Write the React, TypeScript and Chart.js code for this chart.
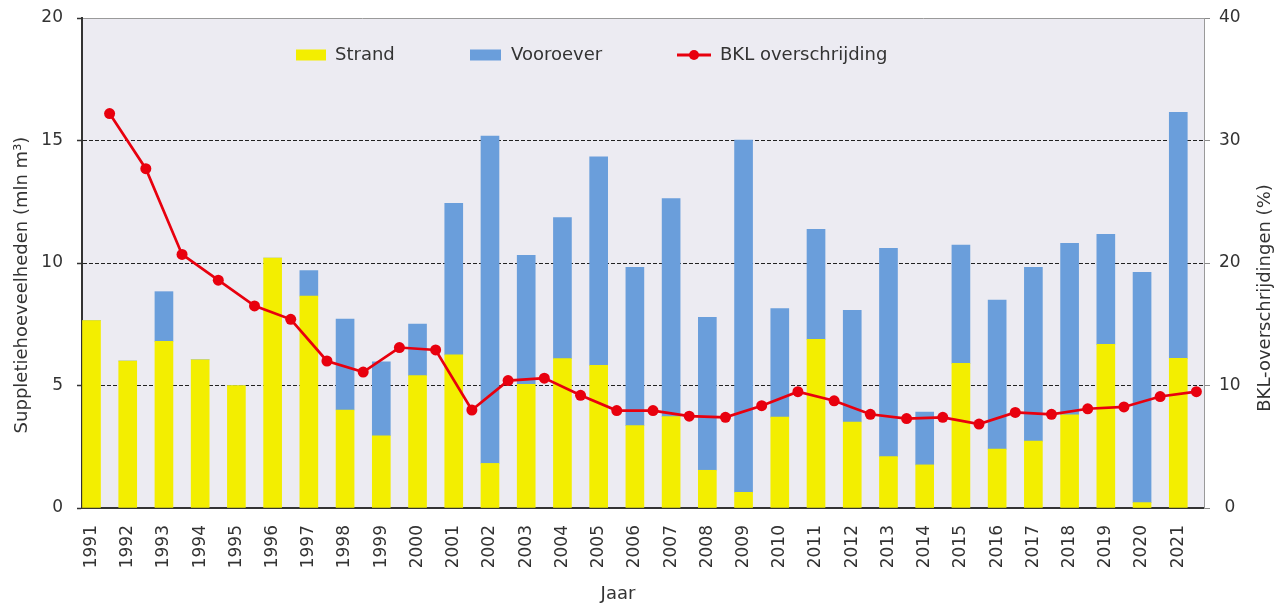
import React, { useEffect, useRef } from 'react';
import { Chart, registerables } from 'chart.js';

Chart.register(...registerables);

const years = ['1991','1992','1993','1994','1995','1996','1997','1998','1999','2000','2001','2002','2003','2004','2005','2006','2007','2008','2009','2010','2011','2012','2013','2014','2015','2016','2017','2018','2019','2020','2021'];
const strand = [7.65, 6.0, 6.8, 6.05, 5.0, 10.2, 8.65, 4.0, 2.95, 5.4, 6.25, 1.82, 5.05, 6.1, 5.82, 3.36, 3.73, 1.54, 0.64, 3.71, 6.88, 3.51, 2.1, 1.76, 5.9, 2.4, 2.73, 3.8, 6.68, 0.22, 6.11];
const vooroever = [0, 0, 2.03, 0, 0, 0, 1.04, 3.71, 3.02, 2.11, 6.19, 13.36, 5.26, 5.75, 8.51, 6.46, 8.9, 6.24, 14.38, 4.43, 4.49, 4.56, 8.5, 2.16, 4.83, 6.09, 7.09, 7.0, 4.49, 9.4, 10.04];
const bkl = [32.2, 27.7, 20.7, 18.6, 16.5, 15.4, 12.0, 11.1, 13.1, 12.9, 8.0, 10.4, 10.6, 9.2, 7.95, 7.95, 7.5, 7.4, 8.35, 9.5, 8.75, 7.65, 7.3, 7.4, 6.85, 7.8, 7.65, 8.1, 8.25, 9.1, 9.5];
const leftTicks = [0, 5, 10, 15, 20];
const rightTicks = [0, 10, 20, 30, 40];
const LINE_OFFSET = 0.5; // BKL points sit between the years

const FONT = 'DejaVu Sans';
const TEXT = '#333333';
const YELLOW = '#F3EE00';
const BLUE = '#6A9EDB';
const RED = '#E8000E';
const PLOT_BG = '#ECEBF2';

const bgPlugin = {
  id: 'plotBg',
  beforeDraw(chart: any) {
    const { ctx, chartArea } = chart;
    const { left, top, right, bottom } = chartArea;
    ctx.save();
    ctx.fillStyle = PLOT_BG;
    ctx.fillRect(left, top, right - left, bottom - top);
    ctx.strokeStyle = '#9a9a9a';
    ctx.lineWidth = 1;
    ctx.beginPath();
    ctx.moveTo(left, top + 0.5);
    ctx.lineTo(right, top + 0.5);
    ctx.stroke();
    ctx.restore();
  },
};

const titlesPlugin = {
  id: 'titles',
  afterDraw(chart: any) {
    const { ctx, chartArea } = chart;
    ctx.save();
    ctx.fillStyle = TEXT;
    ctx.font = `18px "${FONT}"`;
    ctx.textAlign = 'center';
    ctx.textBaseline = 'middle';
    // left title
    ctx.save();
    ctx.translate(22, 285);
    ctx.rotate(-Math.PI / 2);
    ctx.fillText('Suppletiehoeveelheden (mln m³)', 0, 0);
    ctx.restore();
    // right title
    ctx.save();
    ctx.translate(chart.width - 11, 298);
    ctx.rotate(-Math.PI / 2);
    ctx.fillText('BKL-overschrijdingen (%)', 0, 0);
    ctx.restore();
    // x title
    ctx.fillText('Jaar', chartArea.left + 536, 594);

    // legend inside plot area
    const ly = chartArea.top + 37;
    const lx = chartArea.left;
    ctx.font = `18px "${FONT}"`;
    ctx.textAlign = 'left';
    ctx.fillStyle = YELLOW;
    ctx.fillRect(lx + 214, ly - 5.5, 30, 11);
    ctx.fillStyle = TEXT;
    ctx.fillText('Strand', lx + 253, ly);
    ctx.fillStyle = BLUE;
    ctx.fillRect(lx + 388, ly - 5.5, 31, 11);
    ctx.fillStyle = TEXT;
    ctx.fillText('Vooroever', lx + 429, ly);
    ctx.strokeStyle = RED;
    ctx.lineWidth = 3;
    ctx.beginPath();
    ctx.moveTo(lx + 595, ly);
    ctx.lineTo(lx + 629, ly);
    ctx.stroke();
    ctx.fillStyle = RED;
    ctx.beginPath();
    ctx.arc(lx + 612, ly, 5, 0, Math.PI * 2);
    ctx.fill();
    ctx.fillStyle = TEXT;
    ctx.fillText('BKL overschrijding', lx + 638, ly);
    ctx.restore();
  },
};

export default function App() {
  const canvasRef = useRef<HTMLCanvasElement | null>(null);

  useEffect(() => {
    document.body.style.margin = '0';
    const canvas = canvasRef.current;
    if (!canvas) return;

    const lineData = bkl.map((v, i) => ({ x: i + LINE_OFFSET, y: v }));
    const strandData = strand.map((v, i) => ({ x: i, y: v }));
    const voorData = vooroever.map((v, i) => ({ x: i, y: v }));

    const chart = new Chart(canvas, {
      type: 'bar',
      data: {
        datasets: [
          {
            type: 'line',
            label: 'BKL overschrijding',
            data: lineData,
            yAxisID: 'y2',
            xAxisID: 'x',
            borderColor: RED,
            backgroundColor: RED,
            borderWidth: 2.7,
            pointRadius: 5.5,
            pointBackgroundColor: RED,
            pointBorderColor: RED,
            pointBorderWidth: 0,
            tension: 0,
            order: 0,
          } as any,
          {
            type: 'bar',
            label: 'Strand',
            data: strandData,
            yAxisID: 'y',
            xAxisID: 'x',
            backgroundColor: YELLOW,
            barThickness: 18,
            order: 1,
          } as any,
          {
            type: 'bar',
            label: 'Vooroever',
            data: voorData,
            yAxisID: 'y',
            xAxisID: 'x',
            backgroundColor: BLUE,
            barThickness: 18,
            order: 1,
          } as any,
        ],
      },
      options: {
        responsive: false,
        animation: false,
        layout: { padding: { top: 18, left: 0, right: 0, bottom: 0 } },
        plugins: {
          legend: { display: false },
          tooltip: { enabled: false },
        },
        scales: {
          x: {
            type: 'linear',
            position: 'bottom',
            stacked: true,
            offset: false,
            min: -0.262,
            max: 30.71,
            afterBuildTicks: (axis: any) => {
              axis.ticks = years.map((_, i) => ({ value: i }));
            },
            afterFit: (s: any) => { s.height = 97; s.paddingLeft = 0; s.paddingRight = 0; },
            ticks: {
              autoSkip: false,
              minRotation: 90,
              maxRotation: 90,
              padding: 17,
              color: TEXT,
              font: { family: FONT, size: 17 },
              callback: (v: any) => years[Math.round(v)] ?? '',
            },
            grid: { display: true, offset: false, drawOnChartArea: false, drawTicks: false },
            border: { display: true, color: '#333333', width: 2 },
          },
          y: {
            type: 'linear',
            position: 'left',
            stacked: true,
            min: 0,
            max: 20,
            afterBuildTicks: (axis: any) => {
              axis.ticks = leftTicks.map((v) => ({ value: v }));
            },
            afterFit: (s: any) => { s.width = 82; s.paddingTop = 0; s.paddingBottom = 0; },
            ticks: {
              padding: 14,
              color: TEXT,
              font: { family: FONT, size: 17 },
            },
            grid: {
              color: (c: any) => (c.tick && c.tick.value > 0 && c.tick.value < 20 ? '#222222' : 'rgba(0,0,0,0)'),
              lineWidth: 1,
              drawTicks: true,
              tickLength: 5,
              tickColor: '#333333',
              tickWidth: 1.5,
              borderDash: [4, 2],
            } as any,
            border: { display: true, color: '#333333', width: 2, dash: [4, 2] },
          },
          y2: {
            type: 'linear',
            position: 'right',
            min: 0,
            max: 40,
            afterBuildTicks: (axis: any) => {
              axis.ticks = rightTicks.map((v) => ({ value: v }));
            },
            afterFit: (s: any) => { s.width = 72; s.paddingTop = 0; s.paddingBottom = 0; },
            ticks: {
              padding: 9,
              crossAlign: 'center',
              color: TEXT,
              font: { family: FONT, size: 17 },
            },
            grid: {
              drawOnChartArea: false,
              drawTicks: true,
              tickLength: 6,
              tickColor: '#8a8a8a',
              tickWidth: 1,
            },
            border: { display: true, color: '#9a9a9a', width: 1 },
          },
        },
      } as any,
      plugins: [bgPlugin, titlesPlugin],
    });

    return () => chart.destroy();
  }, []);

  return (
    <div style={{ width: 1276, height: 605 }}>
      <canvas ref={canvasRef} width={1276} height={605} />
    </div>
  );
}
